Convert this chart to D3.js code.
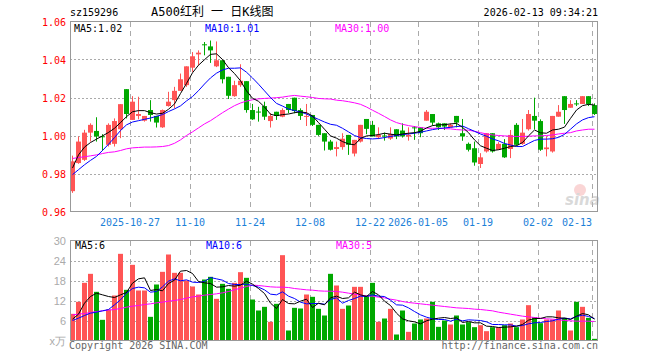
<!DOCTYPE html>
<html>
<head>
<meta charset="utf-8">
<script src="https://cdn.jsdelivr.net/npm/d3@7"></script>
<style>
  body { margin: 0; background: #fff; }
  svg { display: block; }
</style>
</head>
<body>
<div id="chart"></div>
<script>
// trading days shown, 2025-10-13 .. 2026-02-13
var dates = [
  '2025-10-13','2025-10-14','2025-10-15','2025-10-16','2025-10-17','2025-10-20','2025-10-21','2025-10-22','2025-10-23','2025-10-24',
  '2025-10-27','2025-10-28','2025-10-29','2025-10-30','2025-10-31','2025-11-03','2025-11-04','2025-11-05','2025-11-06','2025-11-07',
  '2025-11-10','2025-11-11','2025-11-12','2025-11-13','2025-11-14','2025-11-17','2025-11-18','2025-11-19','2025-11-20','2025-11-21',
  '2025-11-24','2025-11-25','2025-11-26','2025-11-27','2025-11-28','2025-12-01','2025-12-02','2025-12-03','2025-12-04','2025-12-05',
  '2025-12-08','2025-12-09','2025-12-10','2025-12-11','2025-12-12','2025-12-15','2025-12-16','2025-12-17','2025-12-18','2025-12-19',
  '2025-12-22','2025-12-23','2025-12-24','2025-12-25','2025-12-26','2025-12-29','2025-12-30','2025-12-31',
  '2026-01-05','2026-01-06','2026-01-07','2026-01-08','2026-01-09','2026-01-12','2026-01-13','2026-01-14','2026-01-15','2026-01-16',
  '2026-01-19','2026-01-20','2026-01-21','2026-01-22','2026-01-23','2026-01-26','2026-01-27','2026-01-28','2026-01-29','2026-01-30',
  '2026-02-02','2026-02-03','2026-02-04','2026-02-05','2026-02-06','2026-02-09','2026-02-10','2026-02-11','2026-02-12','2026-02-13'
]

var opens = [
  0.9707,0.9855,0.9872,1.0015,1.0024,0.9996,0.9951,0.9956,1.0033,1.0244,
  1.0082,1.0103,1.0078,1.0134,1.0103,1.0043,1.0155,1.0186,1.0235,1.0265,
  1.0357,1.0427,1.0480,1.0469,1.0364,1.0396,1.0309,1.0207,1.0265,1.0286,
  1.0134,1.0126,1.0155,1.0076,1.0125,1.0099,1.0166,1.0199,1.0134,1.0100,
  1.0108,1.0056,1.0012,0.9968,0.9929,0.9939,1.0003,0.9905,0.9968,1.0087,
  1.0056,0.9991,1.0000,0.9984,1.0033,1.0026,0.9995,1.0043,
  1.0043,1.0078,1.0113,1.0064,1.0064,1.0043,1.0103,1.0012,0.9956,0.9933,
  0.9850,0.9916,1.0012,0.9925,0.9956,0.9929,1.0056,0.9956,1.0033,1.0103,
  1.0076,0.9928,0.9916,1.0099,1.0207,1.0146,1.0169,1.0166,1.0207,1.0160
]
var highs = [
  0.9894,0.9995,1.0030,1.0064,1.0096,1.0007,1.0064,1.0090,1.0165,1.0244,
  1.0207,1.0204,1.0103,1.0186,1.0103,1.0137,1.0230,1.0256,1.0326,1.0364,
  1.0439,1.0448,1.0492,1.0500,1.0495,1.0396,1.0309,1.0288,1.0375,1.0286,
  1.0166,1.0151,1.0178,1.0117,1.0125,1.0143,1.0166,1.0199,1.0143,1.0166,
  1.0108,1.0056,1.0012,0.9977,0.9968,1.0012,1.0003,0.9977,1.0056,1.0087,
  1.0077,1.0043,1.0015,1.0043,1.0033,1.0064,1.0043,1.0050,
  1.0043,1.0134,1.0113,1.0068,1.0064,1.0064,1.0103,1.0087,0.9963,0.9968,
  0.9907,1.0012,1.0012,0.9965,0.9981,1.0029,1.0065,1.0087,1.0134,1.0199,
  1.0085,0.9994,1.0103,1.0160,1.0207,1.0186,1.0186,1.0207,1.0207,1.0169
]
var lows = [
  0.9698,0.9851,0.9866,0.9968,0.9968,0.9919,0.9942,0.9942,0.9986,1.0090,
  1.0082,1.0085,1.0073,1.0073,1.0042,1.0040,1.0152,1.0143,1.0235,1.0256,
  1.0335,1.0370,1.0422,1.0382,1.0360,1.0274,1.0192,1.0204,1.0256,1.0120,
  1.0082,1.0073,1.0082,1.0042,1.0082,1.0096,1.0117,1.0117,1.0082,1.0050,
  1.0050,0.9998,0.9921,0.9921,0.9890,0.9925,0.9898,0.9890,0.9963,1.0007,
  0.9995,0.9981,0.9973,0.9977,0.9981,0.9989,0.9973,0.9977,
  0.9991,1.0078,1.0052,1.0029,1.0029,1.0043,1.0043,0.9972,0.9916,0.9841,
  0.9829,0.9910,0.9910,0.9925,0.9882,0.9881,0.9946,0.9951,1.0026,1.0033,
  0.9919,0.9890,0.9910,1.0099,1.0061,1.0146,1.0155,1.0166,1.0155,1.0108
]
var closes = [
  0.9864,0.9968,1.0015,1.0056,0.9995,0.9993,1.0056,1.0076,1.0165,1.0113,
  1.0178,1.0113,1.0103,1.0108,1.0068,1.0134,1.0178,1.0235,1.0296,1.0364,
  1.0417,1.0436,1.0477,1.0448,1.0396,1.0296,1.0209,1.0265,1.0288,1.0134,
  1.0085,1.0124,1.0099,1.0103,1.0103,1.0134,1.0134,1.0129,1.0103,1.0103,
  1.0056,1.0003,0.9968,0.9925,0.9939,0.9983,0.9951,0.9977,1.0056,1.0035,
  0.9995,1.0003,0.9998,1.0008,0.9995,0.9995,1.0003,1.0040,
  1.0012,1.0125,1.0068,1.0043,1.0047,1.0056,1.0068,0.9995,0.9925,0.9858,
  0.9885,1.0012,0.9916,0.9956,0.9885,1.0003,0.9951,1.0015,1.0113,1.0078,
  0.9925,0.9937,1.0103,1.0125,1.0134,1.0166,1.0166,1.0207,1.0166,1.0113
]

var ma5 = [
  0.9829,0.9898,0.9939,0.9963,0.9981,0.9998,1.0016,1.0038,1.0068,1.0099,
  1.0125,1.0131,1.0131,1.0120,1.0113,1.0117,1.0138,1.0166,1.0221,1.0274,
  1.0330,1.0370,1.0399,1.0427,1.0430,1.0400,1.0357,1.0326,1.0288,1.0235,
  1.0196,1.0180,1.0150,1.0112,1.0104,1.0110,1.0113,1.0120,1.0124,1.0120,
  1.0103,1.0068,1.0033,0.9998,0.9986,0.9968,0.9956,0.9951,0.9984,0.9998,
  1.0000,1.0005,1.0012,1.0007,1.0003,1.0008,1.0012,1.0015,
  1.0022,1.0040,1.0052,1.0056,1.0057,1.0061,1.0064,1.0043,1.0015,0.9977,
  0.9946,0.9933,0.9921,0.9925,0.9933,0.9942,0.9946,0.9963,0.9998,1.0029,
  1.0014,1.0012,1.0029,1.0033,1.0044,1.0090,1.0134,1.0157,1.0164,1.0160
]
var ma10 = [
  0.9794,0.9820,0.9846,0.9869,0.9890,0.9921,0.9954,0.9989,1.0026,1.0056,
  1.0071,1.0078,1.0085,1.0092,1.0101,1.0110,1.0126,1.0140,1.0156,1.0182,
  1.0205,1.0236,1.0271,1.0303,1.0328,1.0345,1.0354,1.0354,1.0356,1.0333,
  1.0303,1.0270,1.0235,1.0200,1.0169,1.0155,1.0139,1.0131,1.0124,1.0113,
  1.0099,1.0085,1.0071,1.0059,1.0054,1.0038,1.0019,1.0000,0.9989,0.9984,
  0.9982,0.9984,0.9989,0.9995,1.0000,1.0005,1.0008,1.0012,
  1.0017,1.0024,1.0031,1.0036,1.0040,1.0043,1.0047,1.0050,1.0036,1.0022,
  1.0008,0.9996,0.9982,0.9972,0.9958,0.9950,0.9942,0.9942,0.9958,0.9974,
  0.9981,0.9981,0.9983,0.9990,1.0006,1.0033,1.0061,1.0082,1.0094,1.0099
]
var ma30 = [
  0.9879,0.9884,0.9888,0.9893,0.9898,0.9905,0.9911,0.9914,0.9921,0.9930,
  0.9935,0.9937,0.9939,0.9939,0.9940,0.9942,0.9947,0.9959,0.9977,1.0000,
  1.0019,1.0040,1.0061,1.0078,1.0099,1.0120,1.0139,1.0157,1.0171,1.0181,
  1.0188,1.0193,1.0195,1.0197,1.0199,1.0202,1.0207,1.0211,1.0207,1.0204,
  1.0200,1.0195,1.0193,1.0192,1.0186,1.0183,1.0178,1.0172,1.0164,1.0150,
  1.0133,1.0117,1.0100,1.0082,1.0068,1.0059,1.0052,1.0047,
  1.0042,1.0038,1.0038,1.0038,1.0036,1.0035,1.0031,1.0029,1.0028,1.0022,
  1.0015,1.0008,1.0003,1.0000,0.9998,0.9996,0.9995,0.9995,0.9996,0.9998,
  0.9998,1.0000,1.0003,1.0008,1.0012,1.0015,1.0024,1.0029,1.0033,1.0033
]

// volume, 10k lots (x万)
var vol = [
  8.0,11.6,17.3,20.0,14.6,6.2,9.3,13.5,26.0,15.2,
  22.7,15.0,15.0,7.1,16.8,20.6,25.8,20.3,20.3,18.0,
  16.2,13.8,18.3,19.1,12.5,17.0,15.5,17.3,20.5,18.8,
  12.3,9.0,10.1,5.6,11.0,25.6,3.0,9.8,9.6,13.8,
  13.1,9.5,7.5,20.0,16.5,9.5,10.5,16.1,16.1,13.6,
  17.3,5.6,6.6,9.5,1.8,9.0,2.6,5.1,
  6.3,6.6,11.6,4.1,6.0,4.8,7.5,4.8,5.5,4.0,
  4.6,2.8,4.0,4.0,4.6,5.1,4.0,6.3,10.6,7.0,
  5.2,6.3,6.3,9.0,6.8,3.0,11.6,10.1,6.8,0.5
]
var volMa5 = [
  6.4,7.9,11.2,13.2,14.2,13.7,13.2,12.9,13.7,14.4,
  17.2,18.5,18.8,15.0,15.3,14.9,17.1,18.1,20.8,21.0,
  20.1,17.7,17.3,17.1,16.0,16.1,16.5,16.3,16.6,17.8,
  16.9,15.6,14.1,11.2,9.6,12.3,11.1,11.0,11.8,12.4,
  9.9,11.2,10.7,12.8,13.3,12.6,12.8,14.5,13.7,13.2,
  14.7,13.7,11.8,10.5,8.2,6.5,5.9,5.6,
  5.0,5.9,6.4,6.7,6.9,6.6,6.8,5.4,5.7,5.3,
  5.3,4.3,4.2,3.9,4.0,4.1,4.3,4.8,6.1,6.6,
  6.6,7.1,7.1,6.8,6.7,6.3,7.3,8.1,7.7,6.4
]
var volMa10 = [
  6.0,6.7,7.5,8.2,8.5,8.9,9.3,10.7,12.2,14.2,
  15.6,16.0,15.8,14.5,14.7,16.1,17.8,18.5,17.9,18.2,
  17.5,17.4,17.7,18.9,18.5,18.1,17.1,16.8,16.8,16.9,
  16.5,16.0,15.2,13.9,13.7,14.6,13.3,12.6,11.5,11.0,
  11.1,11.1,10.9,12.3,12.8,11.2,12.0,12.6,13.3,13.2,
  13.7,13.3,13.2,12.1,10.7,10.6,9.8,8.7,
  7.7,7.0,6.5,6.3,6.3,5.8,6.4,5.9,6.2,6.1,
  6.0,5.6,4.8,4.8,4.7,4.7,4.3,4.5,5.0,5.3,
  5.4,5.7,5.9,6.4,6.7,6.5,7.2,7.6,7.2,6.6
]
var volMa30 = [
  7.7,7.9,8.1,8.4,8.7,8.9,9.1,9.3,9.6,10.0,
  10.3,10.5,10.8,11.0,11.3,11.5,11.8,12.0,12.3,12.7,
  13.1,13.3,13.6,13.8,14.0,14.3,14.7,15.2,15.7,16.2,
  16.6,16.5,16.3,16.1,16.0,16.0,15.9,15.6,15.4,15.2,
  15.1,14.9,14.8,14.8,14.7,14.5,14.2,13.9,13.6,13.4,
  13.3,13.0,12.8,12.4,12.1,11.7,11.4,11.2,
  11.0,10.8,10.6,10.4,10.2,10.0,9.8,9.7,9.6,9.4,
  9.3,9.1,8.9,8.5,8.2,7.9,7.6,7.3,7.1,6.9,
  6.7,6.5,6.4,6.2,6.0,5.9,5.8,5.8,5.8,5.7
]

var tickDates  = ['2025-10-27','2025-11-10','2025-11-24','2025-12-08','2025-12-22','2026-01-05','2026-01-19','2026-02-02','2026-02-13']
var tickLabels = ['2025-10-27','11-10','11-24','12-08','12-22','2026-01-05','01-19','02-02','02-13']
var priceTicks = [0.96, 0.98, 1.00, 1.02, 1.04, 1.06]
var volTicks = [0, 6, 12, 18, 24, 30]

var priceLegend = [{t: 'MA5:1.02', c: '#000'}, {t: 'MA10:1.01', c: '#0000ff'}, {t: 'MA30:1.00', c: '#ff00ff'}]
var volLegend = [{t: 'MA5:6', c: '#000'}, {t: 'MA10:6', c: '#0000ff'}, {t: 'MA30:5', c: '#ff00ff'}]

var RED = '#ff5555', GREEN = '#00a800', GRID = '#aaa'
var left = 70, right = 597.5

var svg = d3.select('#chart').append('svg')
  .attr('width', 660).attr('height', 360)
  .style('font-family', '"DejaVu Sans Mono", monospace')
  .style('font-size', '10px')

var x = d3.scaleBand().domain(dates).range([70, 596.5]).paddingInner(0.25).paddingOuter(0)
var y = d3.scaleLinear().domain([0.96, 1.06]).range([211.5, 21.5])
var yv = d3.scaleLinear().domain([0, 30]).range([340.5, 240.5])

var rows = dates.map((d, i) => ({date: d, o: opens[i], h: highs[i], l: lows[i], c: closes[i], v: vol[i]}))
var col = d => d.c >= d.o ? RED : GREEN

// header
svg.append('text').text('sz159296').attr('x', 70).attr('y', 16)
svg.append('text').text('A500红利 一 日K线图').attr('x', 151).attr('y', 16)
  .style('font-size', '12px').style('font-family', '"DejaVu Sans Mono", "Noto Sans CJK SC", monospace')
svg.append('text').text('2026-02-13 09:34:21').attr('x', 598).attr('y', 16).attr('text-anchor', 'end')

// grids
function hgrid(ticks, scale) {
  svg.append('g').selectAll('line').data(ticks.slice(1, -1)).join('line')
    .attr('x1', left).attr('x2', right)
    .attr('y1', d => Math.round(scale(d)) + 0.5).attr('y2', d => Math.round(scale(d)) + 0.5)
    .attr('stroke', GRID).attr('stroke-dasharray', '2,2')
}
function vgrid(y0, y1) {
  svg.append('g').selectAll('line').data(tickDates).join('line')
    .attr('x1', d => x(d) + 0.5).attr('x2', d => x(d) + 0.5)
    .attr('y1', y0).attr('y2', y1)
    .attr('stroke', GRID).attr('stroke-dasharray', '5,4')
}
hgrid(priceTicks, y)
hgrid(volTicks, yv)
vgrid(22, 211)
vgrid(241, 340)

// sina watermark
var logo = svg.append('g').attr('opacity', 0.55)
logo.append('circle').attr('cx', 580).attr('cy', 190).attr('r', 6).attr('fill', '#f08080').attr('opacity', 0.6)
logo.append('text').text('sina').attr('x', 565).attr('y', 205)
  .style('font-family', '"DejaVu Sans", sans-serif').style('font-size', '15px')
  .style('font-weight', 'bold').style('font-style', 'italic').attr('fill', '#bbb')

// candles
var cg = svg.append('g')
cg.selectAll('line').data(rows).join('line')
  .attr('x1', d => x(d.date) + 2.5).attr('x2', d => x(d.date) + 2.5)
  .attr('y1', d => y(d.h)).attr('y2', d => y(d.l))
  .attr('stroke', col)
cg.selectAll('rect').data(rows).join('rect')
  .attr('x', d => x(d.date)).attr('width', x.bandwidth() + 0.5)
  .attr('y', d => y(Math.max(d.o, d.c)))
  .attr('height', d => Math.max(1, Math.abs(y(d.o) - y(d.c))))
  .attr('fill', col)

// volume bars
svg.append('g').selectAll('rect').data(rows).join('rect')
  .attr('x', d => x(d.date)).attr('width', x.bandwidth() + 0.5)
  .attr('y', d => yv(d.v)).attr('height', d => yv(0) - yv(d.v))
  .attr('fill', col)

// moving averages
function maLine(values, scale, color) {
  var line = d3.line().x((d, i) => x(dates[i]) + 2.5).y(d => scale(d))
  svg.append('path').datum(values).attr('d', line)
    .attr('fill', 'none').attr('stroke', color).attr('stroke-width', 1)
}
maLine(ma30, y, '#ff00ff')
maLine(ma10, y, '#0000ff')
maLine(ma5, y, '#000')
maLine(volMa30, yv, '#ff00ff')
maLine(volMa10, yv, '#0000ff')
maLine(volMa5, yv, '#000')

// frames
svg.append('rect').attr('x', 70.5).attr('y', 21.5).attr('width', 527).attr('height', 190)
  .attr('fill', 'none').attr('stroke', '#999')
svg.append('rect').attr('x', 70.5).attr('y', 240.5).attr('width', 527).attr('height', 100)
  .attr('fill', 'none').attr('stroke', '#999')

// legends
var legX = [74, 205, 335]
svg.append('g').selectAll('text').data(priceLegend).join('text')
  .attr('x', (d, i) => legX[i]).attr('y', 32).attr('fill', d => d.c).text(d => d.t)
svg.append('g').selectAll('text').data(volLegend).join('text')
  .attr('x', (d, i) => legX[i] + 1).attr('y', 249).attr('fill', d => d.c).text(d => d.t)

// price axis labels
svg.append('g').selectAll('text').data(priceTicks).join('text')
  .attr('x', 66).attr('y', d => y(d) + 4).attr('text-anchor', 'end')
  .attr('fill', '#ff0000').text(d => d3.format('.2f')(d))

// volume axis labels
svg.append('g').selectAll('text').data(volTicks).join('text')
  .attr('x', 66).attr('y', d => yv(d) + 4).attr('text-anchor', 'end')
  .style('font-family', '"Liberation Sans", sans-serif').style('font-size', '11px')
  .attr('fill', '#aaa').text(d => d === 0 ? 'x万' : d)

// date labels
svg.append('g').selectAll('text').data(tickDates).join('text')
  .attr('x', (d, i) => Math.min(x(d), 592 - tickLabels[i].length * 3))
  .attr('y', 226).attr('text-anchor', 'middle')
  .attr('fill', '#1c80d8').text((d, i) => tickLabels[i])

// footer
svg.append('text').text('Copyright 2026 SINA.COM').attr('x', 69).attr('y', 349).attr('fill', '#666')
svg.append('text').text('http://finance.sina.com.cn').attr('x', 598).attr('y', 349)
  .attr('text-anchor', 'end').attr('fill', '#666')
</script>
</body>
</html>
